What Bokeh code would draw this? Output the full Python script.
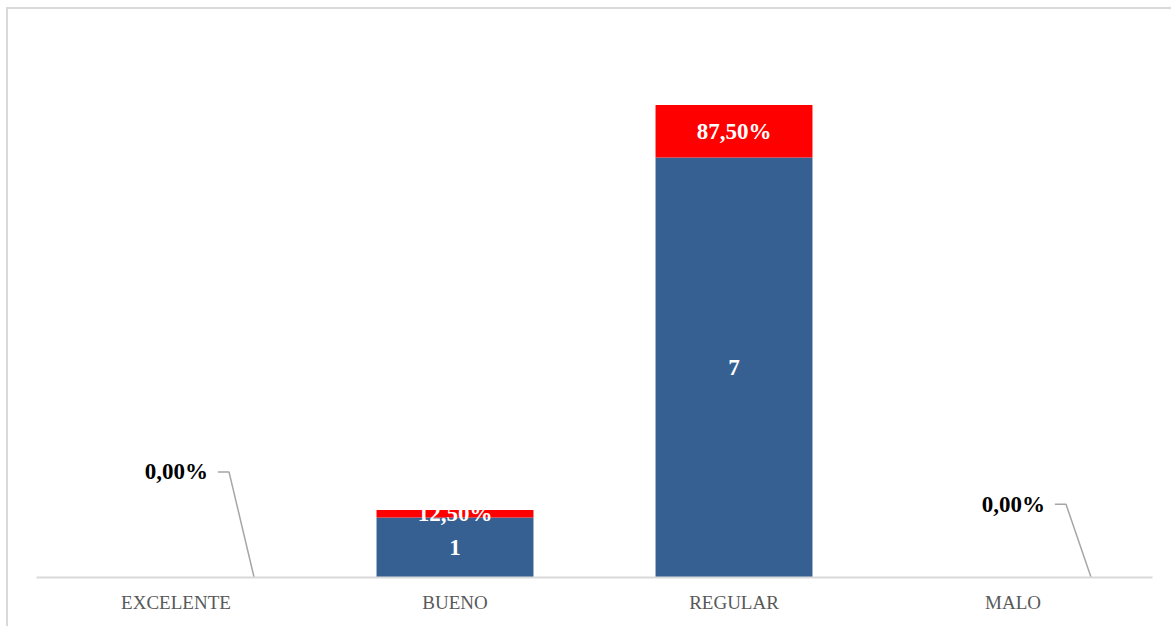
from bokeh.plotting import figure
from bokeh.models import FixedTicker
from bokeh.core.properties import value
from bokeh.embed import file_html
from bokeh.resources import INLINE

categories = ["EXCELENTE", "BUENO", "REGULAR", "MALO"]
counts = [0, 1, 7, 0]
shares = [0.0, 0.125, 0.875, 0.0]

BLUE = "#366092"
RED = "#FF0000"
SERIF = value("Liberation Serif")

xs = list(range(len(categories)))

p = figure(width=1165, height=619, x_range=(-0.5, 3.5), y_range=(0, 9),
           output_backend="svg", toolbar_location=None,
           min_border_left=28, min_border_right=21, min_border_top=28, min_border_bottom=51,
           styles={"margin-left": "6px", "margin-top": "7px",
                   "border-top": "2px solid #d9d9d9", "border-left": "2px solid #d9d9d9"})
p.outline_line_color = None
p.xgrid.visible = False
p.ygrid.visible = False
p.yaxis.visible = False

bar_w = 0.5625
tops = [c + s for c, s in zip(counts, shares)]
p.vbar(x=xs, top=counts, bottom=0, width=bar_w, fill_color=BLUE, line_color=None)
p.vbar(x=xs, top=tops, bottom=counts, width=bar_w, fill_color=RED, line_color=None)

def pct(v):
    return f"{v*100:.2f}%".replace(".", ",")

FS = "23px"

# count labels inside blue bars
cx = [x for x, c in zip(xs, counts) if c > 0]
cy = [c / 2 for c in counts if c > 0]
ct = [str(c) for c in counts if c > 0]
p.text(x=cx, y=cy, text=ct, text_color="white", text_font=SERIF, text_font_style="bold",
       text_font_size=FS, text_align="center", text_baseline="middle")

# percent labels inside red segments
px_ = [x for x, s in zip(xs, shares) if s > 0]
py_ = [c + s / 2 for c, s in zip(counts, shares) if s > 0]
pt_ = [pct(s) for s in shares if s > 0]
p.text(x=px_, y=py_, text=pt_, text_color="white", text_font=SERIF, text_font_style="bold",
       text_font_size=FS, text_align="center", text_baseline="middle")

# zero-value labels placed outside with leader lines
label_lift = {0: 1.76, 3: 1.22}
zx, zy, zt, lx, ly = [], [], [], [], []
for x, s in zip(xs, shares):
    if s == 0:
        h = label_lift.get(x, 1.5)
        zx.append(x + 0.115)
        zy.append(h)
        zt.append(pct(s))
        lx.append([x + 0.15, x + 0.19, x + 0.28])
        ly.append([h, h, 0])
p.multi_line(xs=lx, ys=ly, line_color="#a6a6a6", line_width=1.5)
p.text(x=zx, y=zy, text=zt, text_color="black", text_font=SERIF, text_font_style="bold",
       text_font_size=FS, text_align="right", text_baseline="middle")

ax = p.xaxis[0]
ax.ticker = FixedTicker(ticks=xs)
ax.major_label_overrides = {x: c for x, c in zip(xs, categories)}
ax.axis_line_color = "#d9d9d9"
ax.axis_line_width = 2
ax.major_tick_line_color = None
ax.minor_tick_line_color = None
ax.major_label_text_font = "Liberation Serif"
ax.major_label_text_font_size = "19px"
ax.major_label_text_color = "#595959"
ax.major_label_standoff = 8

open("out.html", "w").write(file_html(p, INLINE))
